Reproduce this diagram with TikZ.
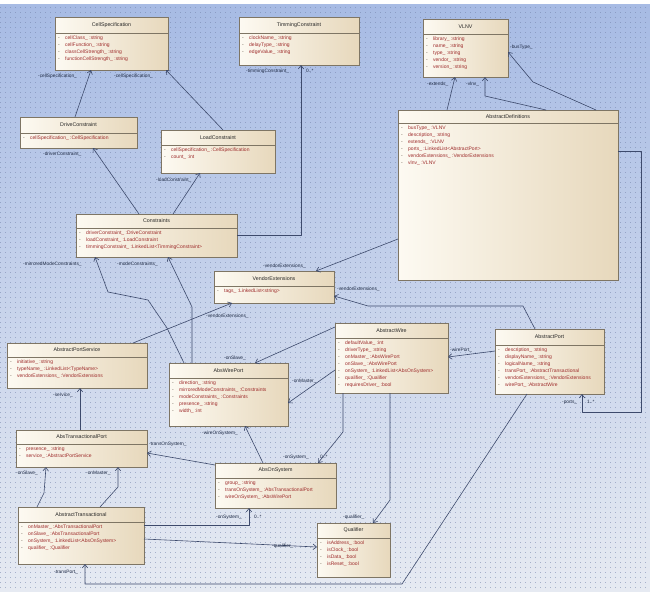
\documentclass[tikz,border=0pt]{standalone}
\usepackage{fontspec}
\setmainfont{Liberation Sans}
\usetikzlibrary{arrows.meta,shadows}
\definecolor{bgtop}{HTML}{A7BBE4}
\definecolor{bgmid}{HTML}{C9D4EC}
\definecolor{bgbot}{HTML}{E6EAF2}
\definecolor{gridc}{HTML}{7483AA}
\definecolor{boxl}{HTML}{FDFAF2}
\definecolor{boxr}{HTML}{E7D8BC}
\definecolor{boxline}{HTML}{7E7564}
\definecolor{attrc}{HTML}{9E2B2B}
\definecolor{dashc}{HTML}{5A4A3A}
\definecolor{linec}{HTML}{3D4A6C}
\definecolor{lblc}{HTML}{1E2A44}
\tikzset{
  classbox/.style={draw=boxline, line width=0.7pt, left color=boxl, right color=boxr,
    inner sep=0pt, outer sep=0pt,
    drop shadow={shadow xshift=1.3pt, shadow yshift=-1.3pt, opacity=0.35}},
  sepline/.style={draw=boxline, line width=0.6pt},
  classtitle/.style={font=\fontsize{5.3}{6}\selectfont, text=black!85, inner sep=0pt},
  attrs/.style={font=\fontsize{5}{7}\selectfont, align=left, inner sep=0pt, anchor=north west},
  lbl/.style={font=\fontsize{4.8}{5}\selectfont, text=lblc, inner sep=0pt, anchor=west},
  assoc/.style={draw=linec, line width=0.6pt, line join=round,
    -{Straight Barb[length=3.5pt,width=5.5pt]}},
  gridline/.style={draw=gridc, draw opacity=0.55, line width=0.55pt, dash pattern=on 0.55pt off 4.45pt}
}
\newcommand\umlattr[1]{\makebox[7pt][l]{\textcolor{dashc}{-}}\textcolor{attrc}{#1}}
\newcommand\umlclass[8]{%
  \node[classbox, minimum width={(#4-#2)*1pt}, minimum height={(#5-#3)*1pt}, anchor=north west] (#1) at (#2,#3) {};
  \draw[sepline] (#1.west |- 0,#6) -- (#1.east |- 0,#6);
  \node[classtitle] (#1-t) at ({(#2+#4)/2},{(#3+#6)/2}) {#7};
  \node[attrs] (#1-a) at ({#2+3},{#6+2.3}) {#8};
}
\begin{document}
\begin{tikzpicture}[x=1pt,y=-1pt]
\useasboundingbox (0,0) rectangle (650,597);
\fill[white] (0,0) rectangle (650,597);
\shade[top color=bgtop, middle color=bgmid, bottom color=bgbot] (0,4) rectangle (650,591);
\foreach \gy in {7,12,...,590} \draw[gridline] (0,\gy) -- (650,\gy);

% classes
\umlclass{cs}{55}{17}{168}{70}{33}{CellSpecification}{\umlattr{cellClass\_ :string}\\\umlattr{cellFunction\_ :string}\\\umlattr{classCellStrength\_ :string}\\\umlattr{functionCellStrength\_ :string}}
\umlclass{tc}{239}{17}{359}{65}{33}{TimmingConstraint}{\umlattr{clockName\_ :string}\\\umlattr{delayType\_ :string}\\\umlattr{edgeValue\_ :string}}
\umlclass{vl}{423}{19}{508}{77}{34}{VLNV}{\umlattr{library\_ :string}\\\umlattr{name\_ :string}\\\umlattr{type\_ :string}\\\umlattr{vendor\_ :string}\\\umlattr{version\_ :string}}
\umlclass{dc}{20}{117}{137}{148}{133}{DriveConstraint}{\umlattr{cellSpecification\_ :CellSpecification}}
\umlclass{lc}{161}{130}{275}{173}{145}{LoadConstraint}{\umlattr{cellSpecification\_ :CellSpecification}\\\umlattr{count\_ :int}}
\umlclass{ad}{398}{110}{618}{280}{123}{AbstractDefinitions}{\umlattr{busType\_ :VLNV}\\\umlattr{description\_ :string}\\\umlattr{extends\_ :VLNV}\\\umlattr{ports\_ :LinkedList<AbstractPort>}\\\umlattr{vendorExtensions\_ :VendorExtensions}\\\umlattr{vlnv\_ :VLNV}}
\umlclass{co}{76}{214}{237}{257}{228}{Constraints}{\umlattr{driverConstraint\_ :DriveConstraint}\\\umlattr{loadConstraint\_ :LoadConstraint}\\\umlattr{timmingConstraint\_ :LinkedList<TimmingConstraint>}}
\umlclass{ve}{214}{271}{334}{303}{286}{VendorExtensions}{\umlattr{tags\_ :LinkedList<string>}}
\umlclass{aps}{7}{343}{147}{388}{357}{AbstractPortService}{\umlattr{initiative\_ :string}\\\umlattr{typeName\_ :LinkedList<TypeName>}\\\umlattr{vendorExtensions\_ :VendorExtensions}}
\umlclass{aw}{335}{323}{448}{393}{338}{AbstractWire}{\umlattr{defaultValue\_ :int}\\\umlattr{driverType\_ :string}\\\umlattr{onMaster\_ :AbsWirePort}\\\umlattr{onSlave\_ :AbsWirePort}\\\umlattr{onSystem\_ :LinkedList<AbsOnSystem>}\\\umlattr{qualifier\_ :Qualifier}\\\umlattr{requiresDriver\_ :bool}}
\umlclass{ap}{495}{329}{604}{394}{345}{AbstractPort}{\umlattr{description\_ :string}\\\umlattr{displayName\_ :string}\\\umlattr{logicalName\_ :string}\\\umlattr{transPort\_ :AbstractTransactional}\\\umlattr{vendorExtensions\_ :VendorExtensions}\\\umlattr{wirePort\_ :AbstractWire}}
\umlclass{awp}{169}{363}{288}{426}{378}{AbsWirePort}{\umlattr{direction\_ :string}\\\umlattr{mirroredModeConstraints\_ :Constraints}\\\umlattr{modeConstraints\_ :Constraints}\\\umlattr{presence\_ :string}\\\umlattr{width\_ :int}}
\umlclass{atp}{16}{430}{147}{467}{444}{AbsTransactionalPort}{\umlattr{presence\_ :string}\\\umlattr{service\_ :AbstractPortService}}
\umlclass{aos}{215}{463}{336}{508}{478}{AbsOnSystem}{\umlattr{group\_ :string}\\\umlattr{transOnSystem\_ :AbsTransactionalPort}\\\umlattr{wireOnSystem\_ :AbsWirePort}}
\umlclass{at}{18}{507}{144}{564}{522}{AbstractTransactional}{\umlattr{onMaster\_ :AbsTransactionalPort}\\\umlattr{onSlave\_ :AbsTransactionalPort}\\\umlattr{onSystem\_ :LinkedList<AbsOnSystem>}\\\umlattr{qualifier\_ :Qualifier}}
\umlclass{q}{317}{523}{390}{577}{538}{Qualifier}{\umlattr{isAddress\_ :bool}\\\umlattr{isClock\_ :bool}\\\umlattr{isData\_ :bool}\\\umlattr{isReset\_ :bool}}

% connectors
\draw[assoc] (75,0 |- dc.north) -- (91,0 |- cs.south);
\draw[assoc] (223,0 |- lc.north) -- (166,0 |- cs.south);
\draw[assoc] (139,0 |- co.north) -- (93,0 |- dc.south);
\draw[assoc] (173,0 |- co.north) -- (200,0 |- lc.south);
\draw[assoc] (co.east |- 0,235) -- (301,235) -- (301,0 |- tc.south);
\draw[assoc] (447,0 |- ad.north) -- (455,0 |- vl.south);
\draw[assoc] (546,0 |- ad.north) -- (485,96) -- (485,0 |- vl.south);
\draw[assoc] (596,0 |- ad.north) -- (533,82) -- (vl.east |- 0,52);
\draw[assoc] (ad.west |- 0,239) -- (316,0 |- ve.north);
\draw[assoc] (ad.east |- 0,151) -- (641,151) -- (641,412) -- (582,412) -- (582,0 |- ap.south);
\draw[assoc] (535,0 |- ap.north) -- (523,306) -- (368,306) -- (ve.east |- 0,296);
\draw[assoc] (133,0 |- aps.north) -- (232,0 |- ve.south);
\draw[assoc] (184,0 |- awp.north) -- (167,328) -- (148,300) -- (108,292) -- (95,0 |- co.south);
\draw[assoc] (192,0 |- awp.north) -- (192,307) -- (168,0 |- co.south);
\draw[assoc] (aw.west |- 0,327) -- (255,0 |- awp.north);
\draw[assoc] (aw.west |- 0,370) -- (awp.east |- 0,403);
\draw[assoc] (ap.west |- 0,351) -- (aw.east |- 0,357);
\draw[assoc] (343,0 |- aw.south) -- (343,432) -- (318,0 |- aos.north);
\draw[assoc] (390,0 |- aw.south) -- (390,500) -- (373,0 |- q.north);
\draw[assoc] (263,0 |- aos.north) -- (245,0 |- awp.south);
\draw[assoc] (aos.west |- 0,465) -- (atp.east |- 0,453);
\draw[assoc] (80,0 |- atp.north) -- (80,0 |- aps.south);
\draw[assoc] (37,0 |- at.north) -- (44,493) -- (46,0 |- atp.south);
\draw[assoc] (100,0 |- at.north) -- (118,487) -- (118,0 |- atp.south);
\draw[assoc] (at.east |- 0,525) -- (249,525) -- (249,0 |- aos.south);
\draw[assoc] (at.east |- 0,539) -- (q.west |- 0,547);
\draw[assoc] (527,0 |- ap.south) -- (402,584) -- (85,584) -- (85,0 |- at.south);

% labels
\node[lbl] (l1) at (38,76) {-cellSpecification\_};
\node[lbl] (l2) at (114,76) {-cellSpecification\_};
\node[lbl] (l3) at (43,154) {-driverConstraint\_};
\node[lbl] (l4) at (156,180) {-loadConstraint\_};
\node[lbl] (l5) at (246,71) {-timmingConstraint\_};
\node[lbl] (l6) at (306,71) {0..*};
\node[lbl] (l7) at (427,84) {-extends\_};
\node[lbl] (l8) at (466,84) {-vlnv\_};
\node[lbl] (l9) at (510,47) {-busType\_};
\node[lbl] (l10) at (263,266) {-vendorExtensions\_};
\node[lbl] (l11) at (337,289) {-vendorExtensions\_};
\node[lbl] (l12) at (206,316) {-vendorExtensions\_};
\node[lbl] (l13) at (23,264) {-mirroredModeConstraints\_};
\node[lbl] (l14) at (117,264) {-modeConstraints\_};
\node[lbl] (l15) at (224,358) {-onSlave\_};
\node[lbl] (l16) at (292,381) {-onMaster\_};
\node[lbl] (l17) at (450,350) {-wirePort\_};
\node[lbl] (l18) at (283,457) {-onSystem\_};
\node[lbl] (l19) at (320,457) {0..*};
\node[lbl] (l20) at (343,517) {-qualifier\_};
\node[lbl] (l21) at (202,433) {-wireOnSystem\_};
\node[lbl] (l22) at (149,444) {-transOnSystem\_};
\node[lbl] (l23) at (53,395) {-service\_};
\node[lbl] (l24) at (16,473) {-onSlave\_};
\node[lbl] (l25) at (86,473) {-onMaster\_};
\node[lbl] (l26) at (216,517) {-onSystem\_};
\node[lbl] (l27) at (254,517) {0..*};
\node[lbl] (l28) at (272,546) {-qualifier\_};
\node[lbl] (l29) at (54,572) {-transPort\_};
\node[lbl] (l30) at (562,402) {-ports\_};
\node[lbl] (l31) at (587,402) {1..*};
\end{tikzpicture}
\end{document}
